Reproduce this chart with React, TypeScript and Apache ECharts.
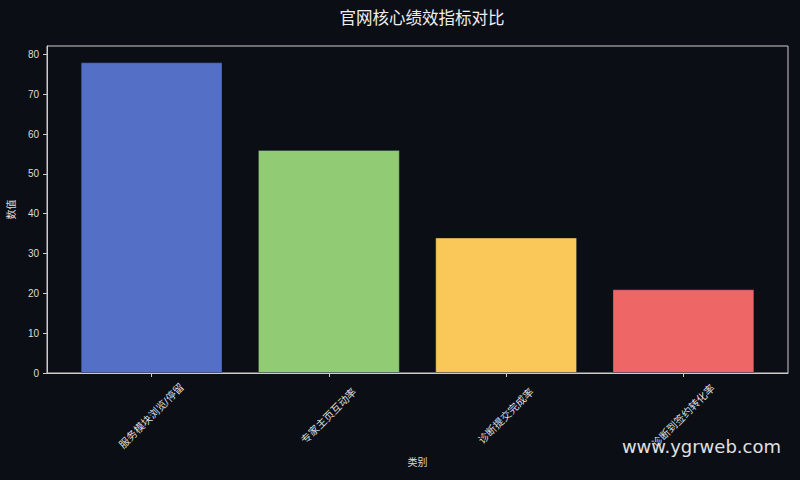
import { useEffect, useRef } from "react";
import * as echarts from "echarts";

const categories = ["服务模块浏览/停留", "专家主页互动率", "诊断提交完成率", "诊断到签约转化率"];
const values = [78, 56, 34, 21];
const barColors = ["#5470c6", "#91cc75", "#fac858", "#ee6666"];
const xTicks = [0, 1, 2, 3];

const BG = "#0b0e15";
const FG = "#dddddd";
const SPINE = "#cccccc";
const FONT = "'Liberation Sans', 'Noto Sans CJK SC', sans-serif";

export default function App() {
  const ref = useRef<HTMLDivElement>(null);

  useEffect(() => {
    if (!ref.current) return;
    const chart = echarts.init(ref.current, null, { renderer: "svg" });

    chart.setOption({
      animation: false,
      backgroundColor: BG,
      textStyle: { fontFamily: FONT },
      title: {
        text: "官网核心绩效指标对比",
        left: 417,
        top: 4,
        textAlign: "center",
        textStyle: { color: "#eeeeee", fontSize: 16.5, fontWeight: "normal", fontFamily: "'Noto Sans CJK SC', sans-serif" },
      },
      grid: {
        left: 47, right: 12, top: 46, bottom: 107,
        containLabel: false,
        outerBoundsMode: "none",
        show: true, borderColor: SPINE, borderWidth: 1, backgroundColor: BG,
      },
      xAxis: {
        type: "value",
        min: -0.59,
        max: 3.59,
        name: "类别",
        nameLocation: "middle",
        nameGap: 84,
        nameTextStyle: { color: FG, fontSize: 10 },
        axisLine: { show: true, onZero: false, lineStyle: { color: SPINE } },
        axisTick: { show: true, length: 4, customValues: xTicks, lineStyle: { color: SPINE } },
        axisLabel: {
          customValues: xTicks,
          formatter: (v: number) => categories[Math.round(v)] ?? "",
          rotate: 45,
          align: "center",
          verticalAlign: "middle",
          margin: 43,
          color: FG,
          fontSize: 10.5,
        },
        splitLine: { show: false },
      },
      yAxis: {
        type: "value",
        min: 0,
        max: 82.1,
        interval: 10,
        name: "数值",
        nameLocation: "middle",
        nameGap: 26,
        nameTextStyle: { color: FG, fontSize: 10 },
        axisLine: { show: true, onZero: false, lineStyle: { color: SPINE } },
        axisTick: { show: true, length: 4, lineStyle: { color: SPINE } },
        axisLabel: { color: FG, fontSize: 10, margin: 8, showMaxLabel: false },
        splitLine: { show: false },
      },
      series: [
        {
          type: "bar",
          barWidth: 141.8,
          data: values.map((v, i) => ({
            value: [i, v],
            itemStyle: { color: barColors[i], borderColor: "rgba(20,30,60,0.35)", borderWidth: 1 },
          })),
        },
      ],
      graphic: [
        {
          type: "text",
          right: 19,
          top: 437,
          style: { text: "www.ygrweb.com", fill: "#e0e0e0", fontSize: 18, fontFamily: "'DejaVu Sans', sans-serif" },
        },
      ],
    });

    return () => chart.dispose();
  }, []);

  return <div ref={ref} style={{ width: 800, height: 480, position: "fixed", left: 0, top: 0 }} />;
}
